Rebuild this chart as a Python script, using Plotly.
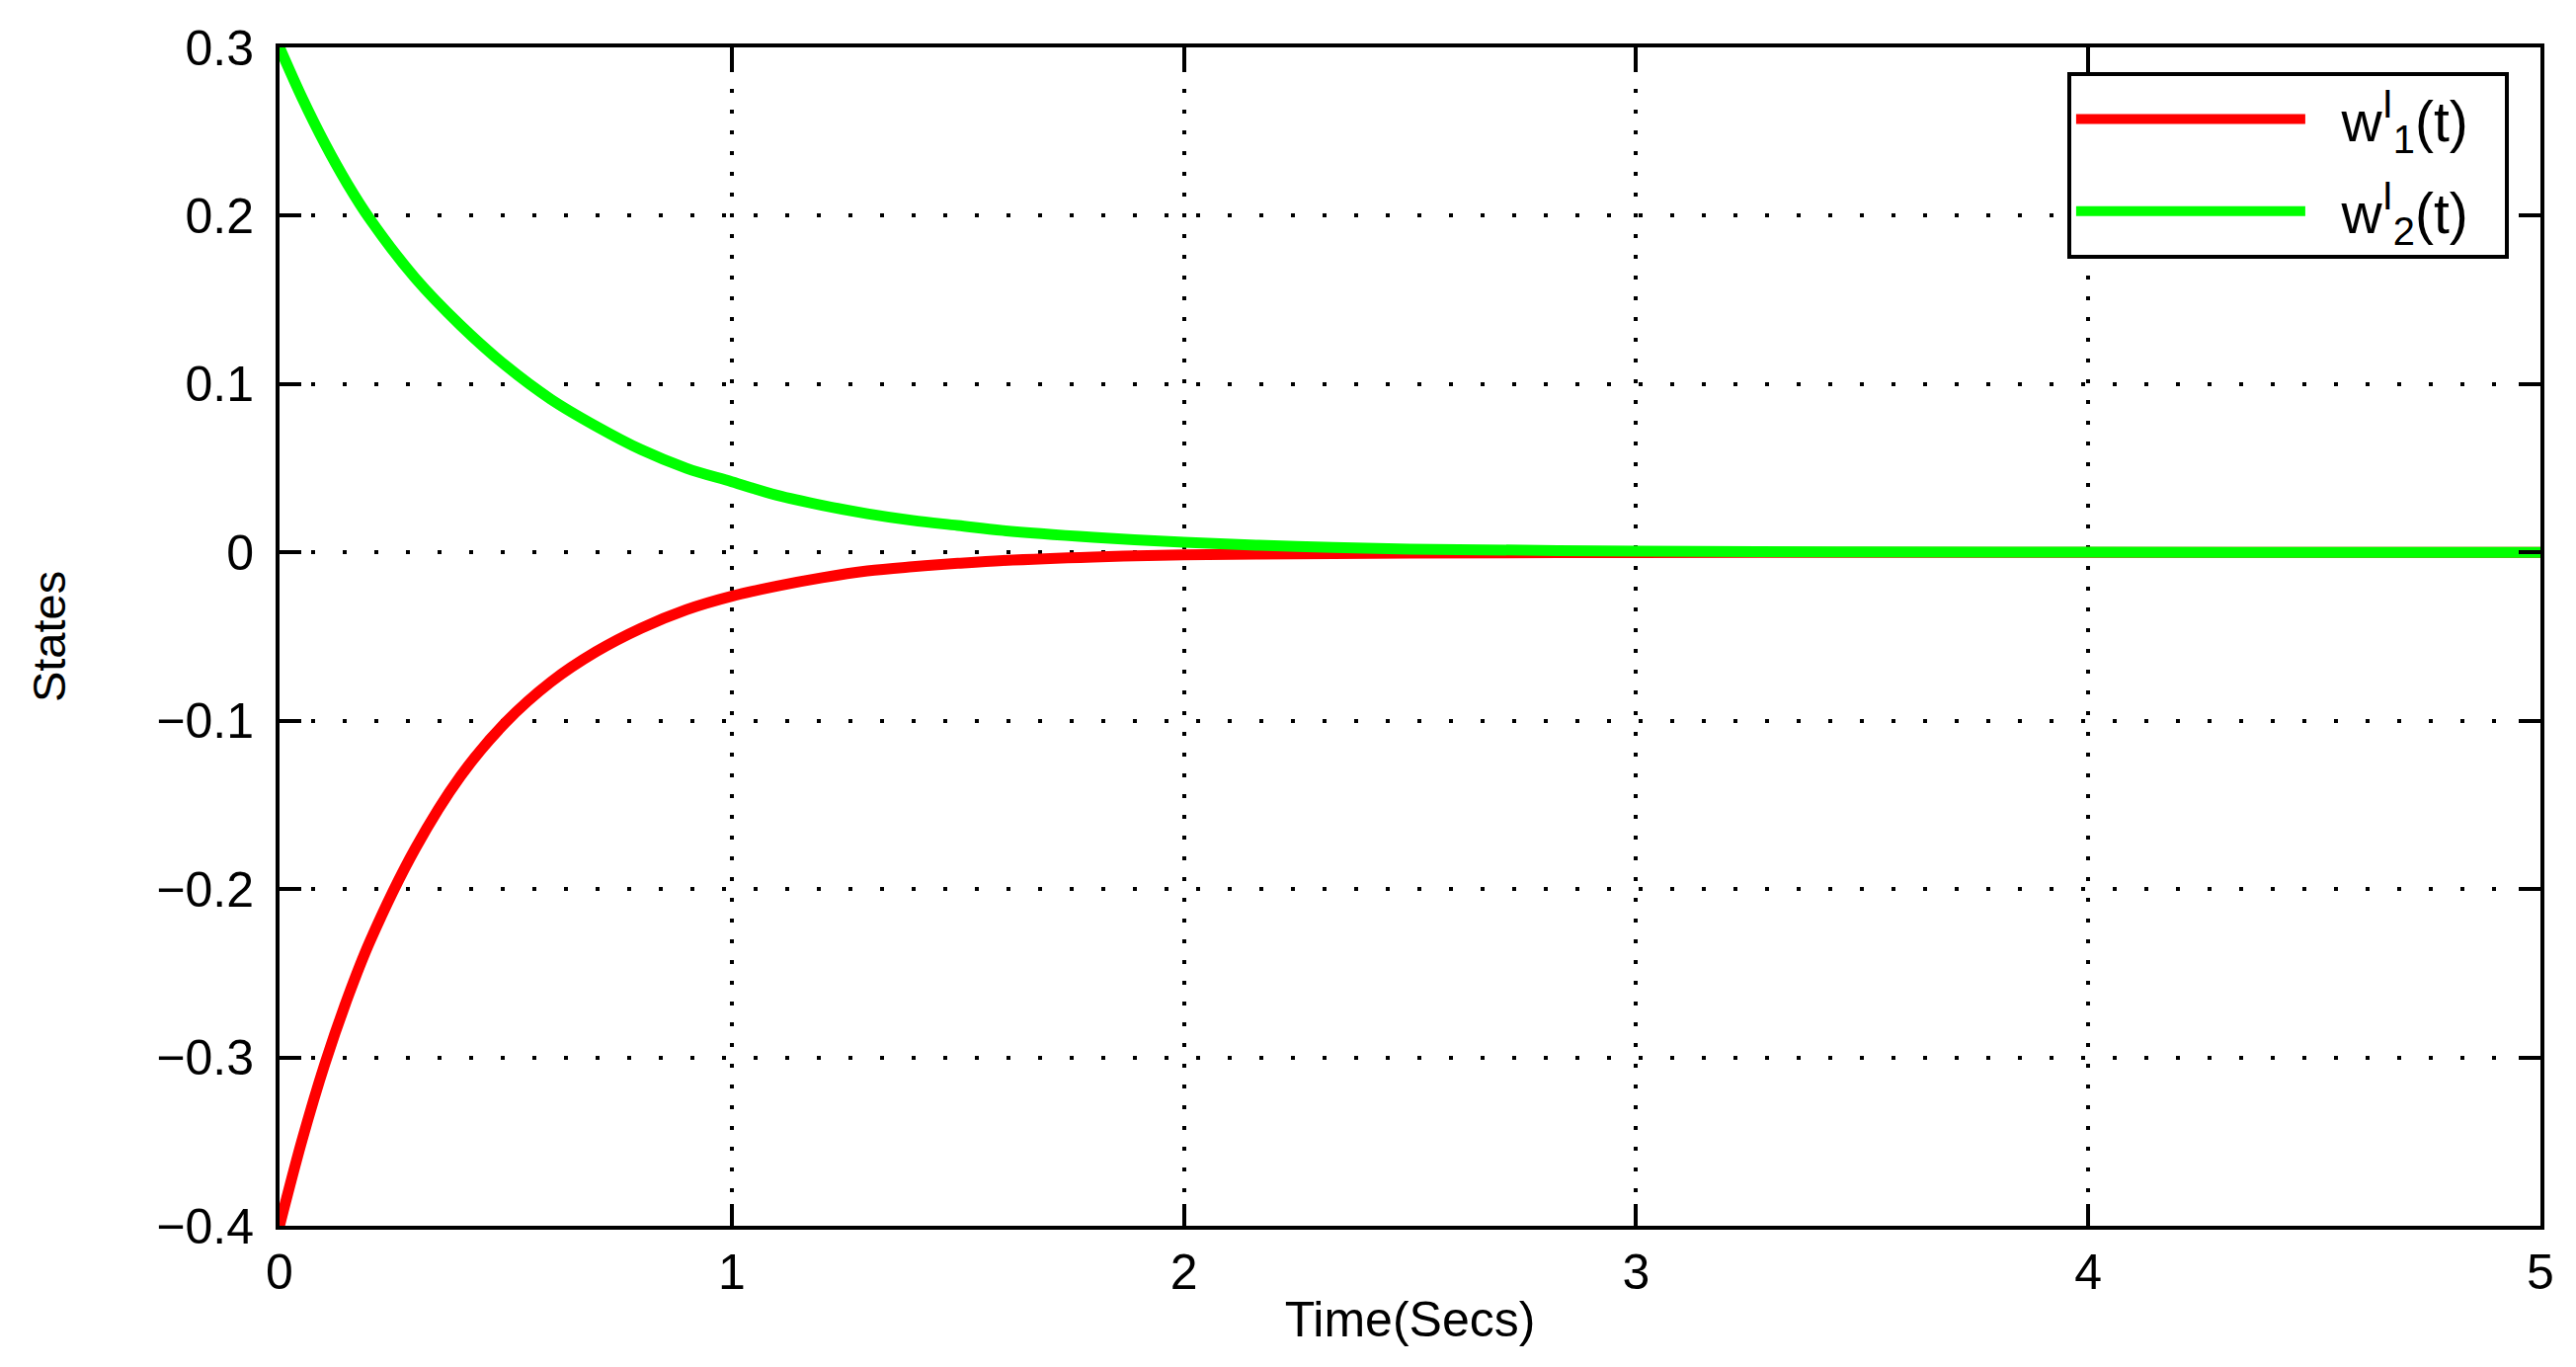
import plotly.graph_objects as go

# Time samples (s)
t = [0, 0.05, 0.1, 0.15, 0.2, 0.3, 0.4, 0.5, 0.6, 0.7, 0.8, 0.9, 1.0, 1.1, 1.2,
     1.3, 1.4, 1.5, 1.6, 1.8, 2.0, 2.25, 2.5, 3.0, 3.5, 4.0, 4.5, 5.0]

# w1^I(t) (red)
w1 = [-0.400, -0.349, -0.304, -0.265, -0.231, -0.176, -0.133, -0.101, -0.077,
      -0.059, -0.045, -0.034, -0.026, -0.020, -0.015, -0.011, -0.0085, -0.0065,
      -0.0048, -0.0027, -0.0015, -0.0008, -0.0004, -0.0001, 0.0, 0.0, 0.0, 0.0]

# w2^I(t) (green)
w2 = [0.300, 0.270, 0.243, 0.219, 0.198, 0.163, 0.135, 0.111, 0.091, 0.075,
      0.061, 0.050, 0.042, 0.034, 0.028, 0.023, 0.019, 0.016, 0.013, 0.009,
      0.006, 0.0035, 0.002, 0.0008, 0.0003, 0.0001, 0.00005, 0.0]

x_ticks = [0, 1, 2, 3, 4, 5]
y_ticks = [-0.4, -0.3, -0.2, -0.1, 0, 0.1, 0.2, 0.3]
y_tick_text = ["\u22120.4", "\u22120.3", "\u22120.2", "\u22120.1", "0", "0.1", "0.2", "0.3"]

FONT = "Liberation Sans, Arial, Helvetica, sans-serif"
NB = "\u00a0"

fig = go.Figure()
fig.add_trace(go.Scatter(x=t, y=w1, mode="lines",
                         name=NB * 2 + "w<sup>I</sup><sub>1</sub>(t)" + NB * 2,
                         legendgroup="a",
                         line=dict(color="#ff0000", width=11, shape="spline")))
fig.add_trace(go.Scatter(x=t, y=w2, mode="lines",
                         name=NB * 2 + "w<sup>I</sup><sub>2</sub>(t)" + NB * 2,
                         legendgroup="b",
                         line=dict(color="#00ff00", width=11, shape="spline")))

fig.update_layout(
    width=2600, height=1376,
    margin=dict(l=275, r=36, t=33, b=143),
    paper_bgcolor="white", plot_bgcolor="white",
    font=dict(family=FONT, size=50, color="black"),
    showlegend=True,
    legend=dict(
        x=0.7907, y=0.979, xanchor="left", yanchor="top",
        bgcolor="white", bordercolor="black", borderwidth=4,
        font=dict(family=FONT, size=57, color="black"),
        itemwidth=232, tracegroupgap=16,
    ),
)

fig.update_xaxes(
    range=[0, 5], tickvals=x_ticks, ticktext=[str(v) for v in x_ticks],
    showline=True, linecolor="black", linewidth=4, mirror="allticks",
    ticks="inside", ticklen=22, tickwidth=4, tickcolor="black",
    showgrid=True, gridcolor="black", gridwidth=4, griddash="4px,17px",
    zeroline=False, ticklabelstandoff=0,
    title=dict(text="Time(Secs)", font=dict(family=FONT, size=50), standoff=4),
)
fig.update_yaxes(
    range=[-0.4, 0.3], tickvals=y_ticks, ticktext=y_tick_text,
    showline=True, linecolor="black", linewidth=4, mirror="allticks",
    ticks="inside", ticklen=22, tickwidth=4, tickcolor="black",
    showgrid=True, gridcolor="black", gridwidth=4, griddash="4px,28px",
    zeroline=False, ticklabelstandoff=12,
    title=dict(text="States", font=dict(family=FONT, size=47), standoff=78),
)

fig.write_html("out.html")
